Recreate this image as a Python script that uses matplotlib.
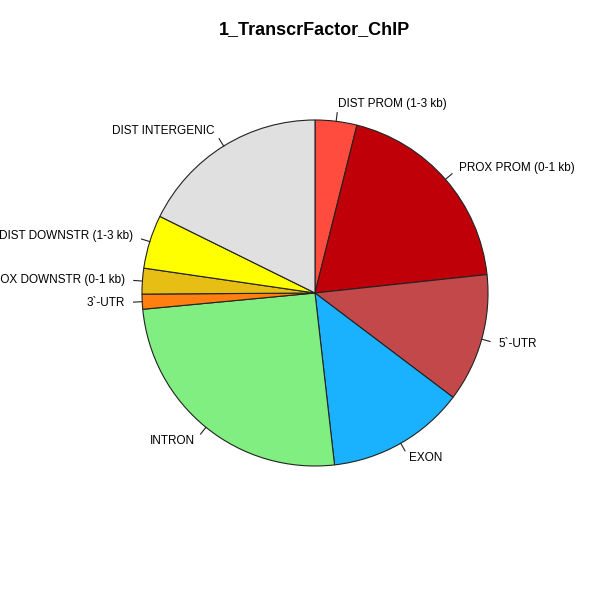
import matplotlib
matplotlib.use("Agg")
import matplotlib.pyplot as plt
import numpy as np

## data (percent)
labels = ["DIST PROM (1-3 kb)", "PROX PROM (0-1 kb)", "5`-UTR", "EXON", "INTRON",
          "3`-UTR", "PROX DOWNSTR (0-1 kb)", "DIST DOWNSTR (1-3 kb)", "DIST INTERGENIC"]
values = [3.9, 19.4, 12.0, 12.9, 25.3, 1.4, 2.4, 5.0, 17.7]
colors = ["#ff4c3e", "#c00008", "#c2484a", "#1ab2ff", "#80ee80",
          "#ff7f10", "#e6be14", "#ffff00", "#e0e0e0"]

plt.rcParams["font.family"] = ["Liberation Sans", "DejaVu Sans"]

fig = plt.figure(figsize=(6, 6), dpi=100)
ax = fig.add_axes([0, 0, 1, 1])

wedges, _ = ax.pie(values, colors=colors, startangle=90, counterclock=False,
                   radius=1, wedgeprops=dict(edgecolor="#222222", linewidth=0.8))

## R-style labels with short ticks
for w, lab in zip(wedges, labels):
    ang = np.deg2rad((w.theta1 + w.theta2) / 2)
    x, y = np.cos(ang), np.sin(ang)
    ax.plot([x, 1.05 * x], [y, 1.05 * y], color="#222222", lw=0.8)
    ha = "left" if x > 0 else "right"
    ax.text(1.1 * x, 1.1 * y, lab, ha=ha, va="center", fontsize=8.5)

# pin pie centre and radius to the reference's pixels
cx, cy, r = 315, 293, 173
ax.set_aspect("equal")
ax.set_xlim(-cx / r, (600 - cx) / r)
ax.set_ylim(-(600 - cy) / r, cy / r)
ax.axis("off")

fig.text(0.525, 0.95, "1_TranscrFactor_ChIP", ha="center", va="center",
         fontsize=13, fontweight="bold")

fig.savefig("out.png", dpi=100, facecolor="white")
